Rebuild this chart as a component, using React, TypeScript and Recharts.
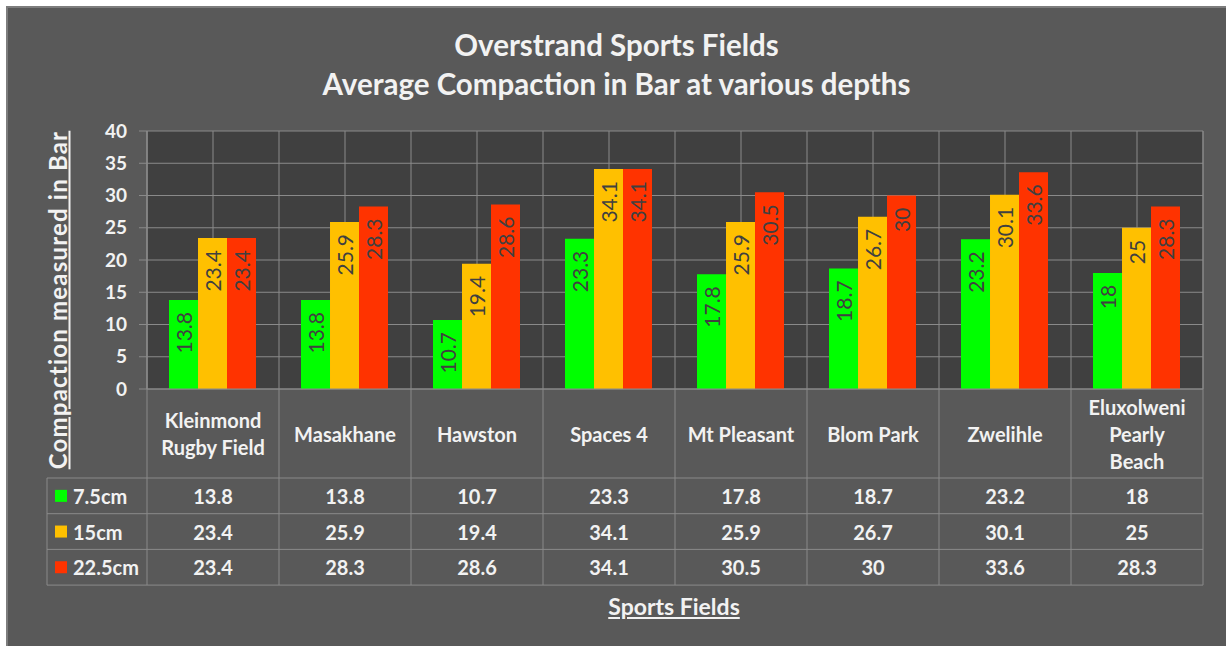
import { Bar, BarChart, CartesianGrid, LabelList, XAxis, YAxis } from 'recharts';

const fields = [
  'Kleinmond Rugby Field',
  'Masakhane',
  'Hawston',
  'Spaces 4',
  'Mt Pleasant',
  'Blom Park',
  'Zwelihle',
  'Eluxolweni Pearly Beach',
];
const depth75 = [13.8, 13.8, 10.7, 23.3, 17.8, 18.7, 23.2, 18];
const depth15 = [23.4, 25.9, 19.4, 34.1, 25.9, 26.7, 30.1, 25];
const depth225 = [23.4, 28.3, 28.6, 34.1, 30.5, 30, 33.6, 28.3];
const yTicks = [0, 5, 10, 15, 20, 25, 30, 35, 40];

const series = [
  { key: 'd75', name: '7.5cm', color: '#00FF00', values: depth75 },
  { key: 'd15', name: '15cm', color: '#FFC000', values: depth15 },
  { key: 'd225', name: '22.5cm', color: '#FF3300', values: depth225 },
];

const data = fields.map((field, i) => {
  const row: Record<string, string | number> = { field };
  series.forEach((s) => (row[s.key] = s.values[i]));
  return row;
});

const W = 1226;
const H = 646;
const margin = { top: 131, right: 23, bottom: 227, left: 87 };
const yAxisW = 60;
const plotW = W - margin.left - yAxisW - margin.right;
const plotH = H - margin.top - margin.bottom - 30;
const FONT = 'Lato, "Open Sans", sans-serif';
const TXT = '#F2F2F2';
const LINE = '#8A8A8A';
const headerH = 89;
const rowH = 35.7;
const legendColW = 100;

// wrap category names the way the table header does
function wrap(text: string, max = 11) {
  const lines: string[] = [];
  let cur = '';
  text.split(' ').forEach((w) => {
    if (!cur) cur = w;
    else if ((cur + ' ' + w).length <= max) cur += ' ' + w;
    else {
      lines.push(cur);
      cur = w;
    }
  });
  if (cur) lines.push(cur);
  return lines;
}

function TableTick(props: any) {
  const { x, y, payload, index } = props;
  const half = plotW / fields.length / 2;
  const left = x - half;
  const right = x + half;
  const tableBottom = y + headerH + rowH * series.length;
  const lines = wrap(payload.value);
  const lineH = 27;
  const headY = y + headerH / 2 - ((lines.length - 1) * lineH) / 2;
  const isFirst = index === 0;
  const isLast = index === fields.length - 1;
  return (
    <g>
      <line x1={left} x2={left} y1={y - plotH} y2={tableBottom} stroke={LINE} />
      {isLast && <line x1={right} x2={right} y1={y - plotH} y2={tableBottom} stroke={LINE} />}
      {series.map((s, r) => (
        <line
          key={s.key}
          x1={isFirst ? left - legendColW : left}
          x2={right}
          y1={y + headerH + rowH * r}
          y2={y + headerH + rowH * r}
          stroke={LINE}
        />
      ))}
      <line
        x1={isFirst ? left - legendColW : left}
        x2={right}
        y1={tableBottom}
        y2={tableBottom}
        stroke={LINE}
      />
      {isFirst && (
        <line
          x1={left - legendColW}
          x2={left - legendColW}
          y1={y + headerH}
          y2={tableBottom}
          stroke={LINE}
        />
      )}
      {lines.map((l, k) => (
        <text
          key={k}
          x={x}
          y={headY + k * lineH}
          textAnchor="middle"
          dominantBaseline="central"
          fill={TXT}
          fontSize={20}
          fontWeight="bold"
          fontFamily={FONT}
        >
          {l}
        </text>
      ))}
      {series.map((s, r) => (
        <text
          key={s.key}
          x={x}
          y={y + headerH + rowH * r + rowH / 2}
          textAnchor="middle"
          dominantBaseline="central"
          fill={TXT}
          fontSize={20}
          fontWeight="bold"
          fontFamily={FONT}
        >
          {s.values[index]}
        </text>
      ))}
      {isFirst &&
        series.map((s, r) => (
          <g key={s.key}>
            <rect
              x={left - legendColW + 8}
              y={y + headerH + rowH * r + rowH / 2 - 6}
              width={12}
              height={12}
              fill={s.color}
            />
            <text
              x={left - legendColW + 26}
              y={y + headerH + rowH * r + rowH / 2}
              dominantBaseline="central"
              fill={TXT}
              fontSize={20}
              fontWeight="bold"
              fontFamily={FONT}
            >
              {s.name}
            </text>
          </g>
        ))}
    </g>
  );
}

function BarValue(props: any) {
  const { x, y, width, value } = props;
  const cx = x + width / 2;
  const cy = y + 12;
  return (
    <text
      x={cx}
      y={cy}
      transform={`rotate(-90 ${cx} ${cy})`}
      textAnchor="end"
      dominantBaseline="central"
      fill="#404040"
      fontSize={21}
      fontFamily={FONT}
    >
      {value}
    </text>
  );
}

export default function App() {
  return (
    <div style={{ position: 'absolute', left: 0, top: 0, width: W, height: H, background: '#fff' }}>
      <div
        style={{
          position: 'absolute',
          left: 6,
          top: 6,
          right: 0,
          bottom: 0,
          background: '#595959',
          borderTop: '2px solid #7d7d7d',
          borderLeft: '2px solid #7d7d7d',
        }}
      />
      <div
        style={{
          position: 'absolute',
          left: 7,
          width: W - 7,
          top: 25,
          textAlign: 'center',
          color: TXT,
          fontFamily: FONT,
          fontWeight: 'bold',
          fontSize: 29.5,
          lineHeight: '39px',
        }}
      >
        <div>Overstrand Sports Fields</div>
        <div>Average Compaction in Bar at various depths</div>
      </div>
      <div
        style={{
          position: 'absolute',
          left: 57,
          top: 300,
          transform: 'translate(-50%, -50%) rotate(-90deg)',
          whiteSpace: 'nowrap',
          color: TXT,
          fontFamily: FONT,
          fontWeight: 'bold',
          fontSize: 24,
          letterSpacing: 1.2,
          textDecoration: 'underline',
        }}
      >
        Compaction measured in Bar
      </div>
      <div
        style={{
          position: 'absolute',
          left: 674,
          top: 606,
          transform: 'translate(-50%, -50%)',
          whiteSpace: 'nowrap',
          color: TXT,
          fontFamily: FONT,
          fontWeight: 'bold',
          fontSize: 23,
          textDecoration: 'underline',
        }}
      >
        Sports Fields
      </div>
      <div style={{ position: 'absolute', left: 0, top: 0 }}>
        <BarChart
          width={W}
          height={H}
          data={data}
          margin={margin}
          barCategoryGap="16.67%"
          barGap={0}
        >
          <CartesianGrid fill="#404040" stroke={LINE} horizontal vertical />
          <XAxis
            dataKey="field"
            height={30}
            tickSize={0}
            tickMargin={0}
            tickLine={false}
            axisLine={{ stroke: LINE }}
            interval={0}
            tick={<TableTick />}
          />
          <YAxis
            width={yAxisW}
            domain={[0, 40]}
            ticks={yTicks}
            tickSize={8}
            tickMargin={12}
            tickLine={{ stroke: LINE }}
            axisLine={{ stroke: LINE }}
            tick={{ fill: TXT, fontSize: 19, fontWeight: 'bold', fontFamily: FONT }}
          />
          {series.map((s) => (
            <Bar key={s.key} dataKey={s.key} name={s.name} fill={s.color} isAnimationActive={false}>
              <LabelList dataKey={s.key} content={<BarValue />} />
            </Bar>
          ))}
        </BarChart>
      </div>
    </div>
  );
}
